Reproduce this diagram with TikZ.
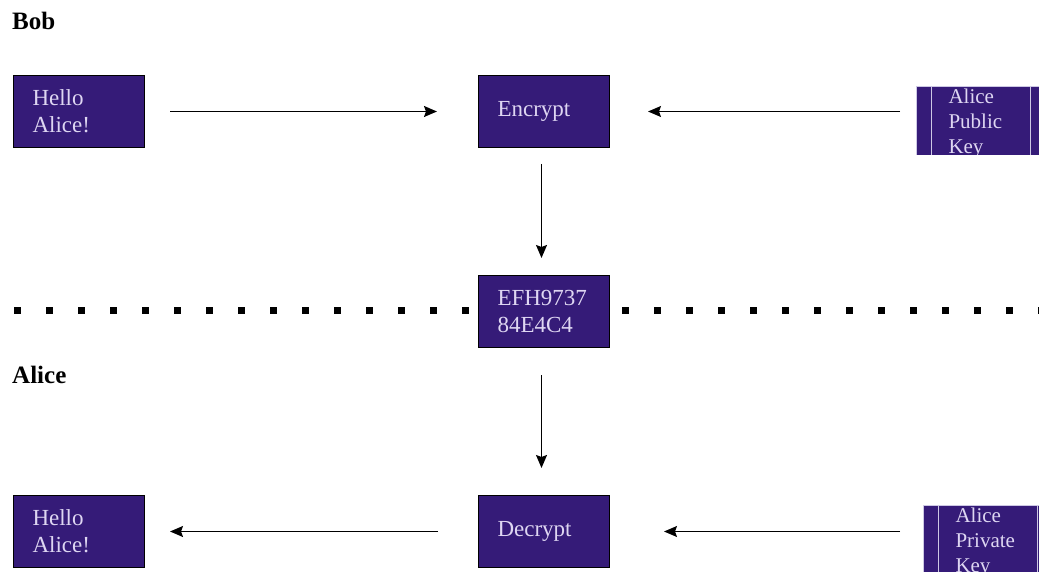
\documentclass[tikz,border=0pt]{standalone}
\usepackage{fontspec}
\setmainfont{Liberation Serif}
\usetikzlibrary{arrows.meta}
\definecolor{boxcol}{RGB}{53,27,120}
\definecolor{txtcol}{RGB}{222,214,242}
\definecolor{keycol}{RGB}{205,200,228}
\tikzset{every picture/.style={x=1pt,y=-1pt}}
\tikzset{msg/.style={rectangle,draw=black,line width=1pt,fill=boxcol,text=txtcol,
  minimum height=72,inner xsep=19pt,text width=93pt,align=left,
  font=\fontsize{23}{27}\selectfont,anchor=north west}}
\tikzset{keybox/.style={rectangle,draw=keycol,line width=1pt,fill=boxcol,text=txtcol,
  minimum height=74,inner ysep=0pt,inner xsep=32pt,text width=64pt,align=left,
  font=\fontsize{21}{25}\selectfont,anchor=north west}}
\tikzset{keyline/.style={draw=keycol,line width=1pt}}
\tikzset{edge/.style={-{Stealth[length=13pt,width=11pt,inset=2pt]},line width=1.4pt}}
\tikzset{party/.style={font=\fontsize{25}{30}\selectfont\bfseries,anchor=base west,inner sep=0pt}}

\begin{document}
\begin{tikzpicture}
\useasboundingbox (0,0) rectangle (1039,572);

\node [party] (bob) at (12,30) {Bob};
\node [party] (alice) at (12,383) {Alice};

\coordinate (sepL) at (14,310);
\coordinate (sepR) at (1039,310);
\draw [line width=7pt,dash pattern=on 7pt off 25pt] (sepL) -- (sepR);

\node [msg] (plain) at (13,75) {Hello\\Alice!};
\node [msg] (encrypt) at (478,75) {Encrypt};
\node [msg] (cipher) at (478,275) {EFH9737\\84E4C4};
\node [msg] (decrypt) at (478,495) {Decrypt};
\node [msg] (plain_) at (13,495) {Hello\\Alice!};

\begin{scope}
\clip (916,86) rectangle +(128,69);
\node [keybox] (pubkey) at (916,86) {Alice\\Public\\Key};
\draw [keyline] ([xshift=15pt]pubkey.north west) -- ([xshift=15pt]pubkey.south west);
\draw [keyline] ([xshift=-15pt]pubkey.north east) -- ([xshift=-15pt]pubkey.south east);
\end{scope}

\begin{scope}
\clip (923,505) rectangle +(128,69);
\node [keybox] (privkey) at (923,505) {Alice\\Private\\Key};
\draw [keyline] ([xshift=15pt]privkey.north west) -- ([xshift=15pt]privkey.south west);
\draw [keyline] ([xshift=-15pt]privkey.north east) -- ([xshift=-15pt]privkey.south east);
\end{scope}

\draw [edge,shorten <=25pt,shorten >=41pt] (plain.east) -- (encrypt.west);
\draw [edge,shorten <=16pt,shorten >=38pt] (pubkey.west |- encrypt.east) -- (encrypt.east);
\draw [edge,shorten <=16pt,shorten >=17pt] ([xshift=-2.5pt]encrypt.south) -- ([xshift=-2.5pt]cipher.north);
\draw [edge,shorten <=27pt,shorten >=27pt] ([xshift=-2.5pt]cipher.south) -- ([xshift=-2.5pt]decrypt.north);
\draw [edge,shorten <=23pt,shorten >=54pt] (privkey.west |- decrypt.east) -- (decrypt.east);
\draw [edge,shorten <=40pt,shorten >=25pt] (decrypt.west) -- (plain_.east);
\end{tikzpicture}
\end{document}
